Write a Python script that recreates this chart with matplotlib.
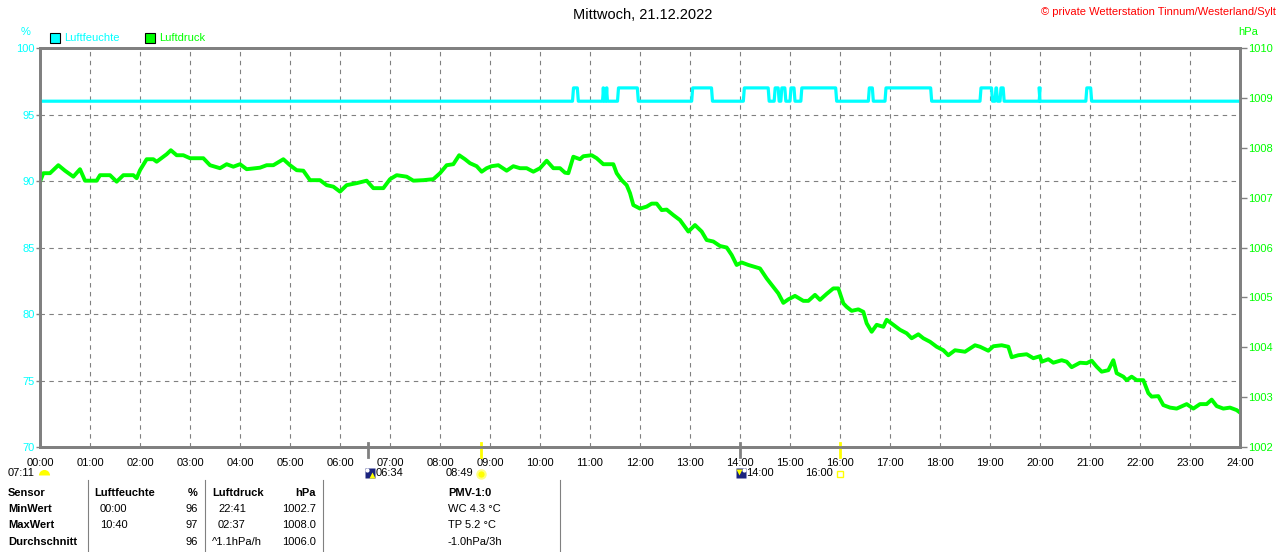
import matplotlib
matplotlib.use('Agg')
import matplotlib.pyplot as plt
from matplotlib.lines import Line2D

plt.rcParams['font.family'] = ['Liberation Sans', 'DejaVu Sans']

# Luftfeuchte: Grundwert 96 %, Zeitraeume mit 97 %
hum_base = 96
hum_high = 97
hum_high_periods = [("10:39", "10:46"), ("11:15", "11:17"), ("11:19", "11:21"),
                    ("11:33", "11:58"), ("13:02", "13:27"), ("14:04", "14:35"),
                    ("14:41", "14:47"), ("14:49", "14:55"), ("15:00", "15:06"),
                    ("15:13", "15:56"), ("16:34", "16:40"), ("16:54", "17:50"),
                    ("18:48", "19:03"), ("19:06", "19:09"), ("19:12", "19:17"),
                    ("19:59", "20:00"), ("20:55", "21:02")]

# Luftdruck (hPa)
p_times = ["00:00", "00:04", "00:12", "00:22", "00:30", "00:40", "00:48", "00:54",
           "01:08", "01:12", "01:24", "01:32", "01:40", "01:52", "01:56", "02:00",
           "02:08", "02:16", "02:20", "02:32", "02:37", "02:44", "02:52", "03:00",
           "03:16", "03:24", "03:36", "03:44", "03:52", "04:00", "04:08", "04:24",
           "04:32", "04:40", "04:52", "05:00", "05:08", "05:16", "05:24", "05:36",
           "05:44", "05:52", "06:00", "06:08", "06:20", "06:32", "06:40", "06:52",
           "07:00", "07:08", "07:20", "07:28", "07:40", "07:52", "08:00", "08:08",
           "08:16", "08:23", "08:30", "08:36", "08:44", "08:50", "08:56", "09:02",
           "09:10", "09:20", "09:28", "09:36", "09:44", "09:52", "10:00", "10:08",
           "10:16", "10:24", "10:30", "10:34", "10:40", "10:48", "10:52", "11:02",
           "11:08", "11:16", "11:28", "11:32", "11:38", "11:44", "11:48", "11:52",
           "12:00", "12:08", "12:14", "12:20", "12:26", "12:32", "12:40", "12:48",
           "12:58", "13:06", "13:14", "13:20", "13:28", "13:36", "13:44", "13:50",
           "13:56", "14:02", "14:10", "14:16", "14:24", "14:32", "14:40", "14:46",
           "14:52", "14:58", "15:06", "15:16", "15:22", "15:30", "15:36", "15:44",
           "15:52", "15:58", "16:00", "16:04", "16:08", "16:14", "16:22", "16:28",
           "16:32", "16:38", "16:44", "16:52", "16:56", "17:04", "17:12", "17:20",
           "17:26", "17:34", "17:40", "17:48", "17:56", "18:04", "18:10", "18:18",
           "18:30", "18:42", "18:48", "18:58", "19:04", "19:14", "19:22", "19:26",
           "19:34", "19:44", "19:52", "20:00", "20:02", "20:10", "20:16", "20:26",
           "20:32", "20:38", "20:48", "20:56", "21:02", "21:08", "21:14", "21:22",
           "21:28", "21:32", "21:40", "21:44", "21:50", "21:56", "22:04", "22:10",
           "22:14", "22:22", "22:28", "22:36", "22:44", "22:56", "23:04", "23:12",
           "23:20", "23:26", "23:32", "23:40", "23:48", "23:56", "24:00"]
p_vals = [1007.32, 1007.49, 1007.49, 1007.65, 1007.54, 1007.42, 1007.57, 1007.34,
          1007.34, 1007.45, 1007.45, 1007.32, 1007.45, 1007.45, 1007.39, 1007.55,
          1007.77, 1007.77, 1007.72, 1007.87, 1007.95, 1007.85, 1007.85, 1007.79,
          1007.79, 1007.65, 1007.59, 1007.67, 1007.62, 1007.67, 1007.57, 1007.60,
          1007.65, 1007.65, 1007.77, 1007.65, 1007.55, 1007.54, 1007.35, 1007.35,
          1007.25, 1007.22, 1007.12, 1007.25, 1007.29, 1007.34, 1007.19, 1007.19,
          1007.37, 1007.45, 1007.42, 1007.34, 1007.35, 1007.37, 1007.49, 1007.65,
          1007.67, 1007.85, 1007.77, 1007.69, 1007.63, 1007.52, 1007.59, 1007.63,
          1007.65, 1007.54, 1007.63, 1007.59, 1007.59, 1007.52, 1007.59, 1007.74,
          1007.59, 1007.59, 1007.50, 1007.49, 1007.82, 1007.77, 1007.83, 1007.85,
          1007.79, 1007.67, 1007.67, 1007.49, 1007.35, 1007.25, 1007.09, 1006.85,
          1006.78, 1006.82, 1006.88, 1006.88, 1006.75, 1006.76, 1006.65, 1006.55,
          1006.32, 1006.45, 1006.32, 1006.15, 1006.12, 1006.03, 1006.00, 1005.85,
          1005.65, 1005.70, 1005.65, 1005.62, 1005.58, 1005.38, 1005.21, 1005.08,
          1004.89, 1004.96, 1005.03, 1004.93, 1004.93, 1005.05, 1004.95, 1005.07,
          1005.18, 1005.18, 1005.08, 1004.88, 1004.81, 1004.73, 1004.76, 1004.71,
          1004.48, 1004.31, 1004.45, 1004.41, 1004.55, 1004.45, 1004.35, 1004.28,
          1004.18, 1004.26, 1004.18, 1004.11, 1004.01, 1003.94, 1003.84, 1003.94,
          1003.91, 1004.04, 1004.01, 1003.93, 1004.02, 1004.04, 1004.01, 1003.80,
          1003.84, 1003.86, 1003.78, 1003.82, 1003.71, 1003.76, 1003.69, 1003.74,
          1003.71, 1003.60, 1003.69, 1003.68, 1003.73, 1003.61, 1003.51, 1003.54,
          1003.74, 1003.48, 1003.41, 1003.34, 1003.41, 1003.34, 1003.34, 1003.08,
          1003.01, 1003.02, 1002.84, 1002.79, 1002.77, 1002.86, 1002.77, 1002.86,
          1002.86, 1002.95, 1002.82, 1002.77, 1002.79, 1002.74, 1002.69]

hours = list(range(25))
hour_labels = ["%02d:00" % h for h in hours]
hum_ticks = [70, 75, 80, 85, 90, 95, 100]
p_ticks = [1002, 1003, 1004, 1005, 1006, 1007, 1008, 1009, 1010]

# Sonne / Mond Markierungen
sun_marks = [("06:34", "#808080"), ("08:49", "#ffff00"), ("14:00", "#808080"), ("16:00", "#ffff00")]

table_rows = ["Sensor", "MinWert", "MaxWert", "Durchschnitt"]
hum_time = ["", "00:00", "10:40", ""]
hum_vals = ["%", "96", "97", "96"]
p_time = ["", "22:41", "02:37", "^1.1hPa/h"]
p_table = ["hPa", "1002.7", "1008.0", "1006.0"]
pmv = ["PMV-1:0", "WC 4.3 °C", "TP 5.2 °C", "-1.0hPa/3h"]

CYAN = '#00ffff'
GREEN = '#00ff00'
GRAY = '#808080'
W, H = 1280, 552


def hh(s):
    h, m = s.split(':')
    return int(h) + int(m) / 60.0


def fp(x, y):
    return x / W, 1 - y / H


hum_x = [0.0]
hum_y = [hum_base]
for a, b in hum_high_periods:
    hum_x += [hh(a), hh(a) + 0.02, hh(b) - 0.02, hh(b)]
    hum_y += [hum_base, hum_high, hum_high, hum_base]
hum_x.append(24.0)
hum_y.append(hum_base)

fig = plt.figure(figsize=(12.8, 5.52), dpi=100)
ax = fig.add_axes([40 / W, 1 - 447 / H, 1200 / W, 399 / H])
ax2 = ax.twinx()

ax.plot(hum_x, hum_y, color=CYAN, lw=2.3, zorder=3)
ax2.plot([hh(t) for t in p_times], p_vals, color=GREEN, lw=2.8)

ax.set_xlim(0, 24)
ax.set_ylim(70, 100)
ax2.set_ylim(1002, 1010)
ax.set_xticks(hours)
ax.set_xticklabels(hour_labels)
ax.set_yticks(hum_ticks)
ax2.set_yticks(p_ticks)
ax.tick_params(axis='x', length=0, pad=8, labelsize=8, colors='black')
ax.tick_params(axis='y', length=3, width=1, color=GRAY, labelcolor=CYAN, labelsize=8, pad=1)
ax2.tick_params(axis='y', length=5, width=1, color=GRAY, labelcolor=GREEN, labelsize=8, pad=1)
ax.grid(True, color=GRAY, lw=0.8, linestyle=(0, (4, 4)))

for a in (ax, ax2):
    for s in a.spines.values():
        s.set_color(GRAY)
        s.set_linewidth(2)

# Markierungen auf der Zeitachse
for t, c in sun_marks:
    ax.plot([hh(t), hh(t)], [-0.025, 0.01], transform=ax.get_xaxis_transform(),
            color=c, lw=2, clip_on=False, zorder=5)

# Kopfzeile
fig.text(*fp(643, 15), "Mittwoch, 21.12.2022", ha='center', va='center', fontsize=10.5)
fig.text(*fp(1276, 12), "© private Wetterstation Tinnum/Westerland/Sylt", ha='right',
         va='center', fontsize=8, color='#ff0000')
fig.text(*fp(26, 32), "%", ha='center', va='center', fontsize=8, color=CYAN)
fig.text(*fp(1248, 32), "hPa", ha='center', va='center', fontsize=8, color=GREEN)

# Legende
fig.add_artist(Line2D([fp(55, 38)[0]], [fp(55, 38)[1]], marker='s', ms=7.5, mfc=CYAN,
                      mec='black', mew=0.8, transform=fig.transFigure))
fig.text(*fp(64, 38), "Luftfeuchte", ha='left', va='center', fontsize=8, color=CYAN)
fig.add_artist(Line2D([fp(150, 38)[0]], [fp(150, 38)[1]], marker='s', ms=7.5, mfc=GREEN,
                      mec='black', mew=0.8, transform=fig.transFigure))
fig.text(*fp(159, 38), "Luftdruck", ha='left', va='center', fontsize=8, color=GREEN)


def icon(x, y, **kw):
    fig.add_artist(Line2D([x / W], [1 - y / H], transform=fig.transFigure, ls='none', **kw))


# Zeile mit Auf-/Untergangszeiten
fig.text(*fp(8, 473), "07:11", ha='left', va='center', fontsize=8)
icon(44, 475, marker='o', ms=8, mfc='#ffff00', mec='none', fillstyle='top',
     markerfacecoloralt='none')
icon(370, 473, marker='s', ms=7.5, mfc='#1a237e', mec='none')
icon(367, 470, marker='o', ms=3, mfc='white', mec='none')
icon(372, 475, marker='^', ms=4, mfc='#ffff00', mec='none')
fig.text(*fp(376, 473), "06:34", ha='left', va='center', fontsize=8)
fig.text(*fp(473, 473), "08:49", ha='right', va='center', fontsize=8)
icon(481, 474, marker='o', ms=6, mfc='#ffff00', mec='#ffff80', mew=1.5)
icon(741, 473, marker='s', ms=7.5, mfc='#1a237e', mec='none')
icon(744, 470, marker='o', ms=3, mfc='white', mec='none')
icon(739, 472, marker='v', ms=4, mfc='#ffff00', mec='none')
fig.text(*fp(746, 473), "14:00", ha='left', va='center', fontsize=8)
fig.text(*fp(833, 473), "16:00", ha='right', va='center', fontsize=8)
icon(840, 474, marker='s', ms=4, mfc='none', mec='#ffff00', mew=1)

# Tabelle
row_y = [493, 509, 525, 542]
for i, y in enumerate(row_y):
    bold = 'bold' if i == 0 else 'normal'
    fig.text(*fp(8, y), table_rows[i], ha='left', va='center', fontsize=8, weight='bold')
    if i == 0:
        fig.text(*fp(94, y), "Luftfeuchte", ha='left', va='center', fontsize=8, weight='bold')
        fig.text(*fp(212, y), "Luftdruck", ha='left', va='center', fontsize=8, weight='bold')
    else:
        fig.text(*fp(100, y), hum_time[i], ha='left', va='center', fontsize=8)
        fig.text(*fp(218 if i < 3 else 212, y), p_time[i], ha='left', va='center', fontsize=8)
    fig.text(*fp(198, y), hum_vals[i], ha='right', va='center', fontsize=8, weight=bold)
    fig.text(*fp(316, y), p_table[i], ha='right', va='center', fontsize=8, weight=bold)
    fig.text(*fp(448, y), pmv[i], ha='left', va='center', fontsize=8, weight=bold)

for x in (88, 205, 323, 560):
    fig.add_artist(Line2D([x / W, x / W], [1 - 480 / H, 0], color=GRAY, lw=0.8,
                          transform=fig.transFigure))

fig.savefig('out.png', dpi=100)
